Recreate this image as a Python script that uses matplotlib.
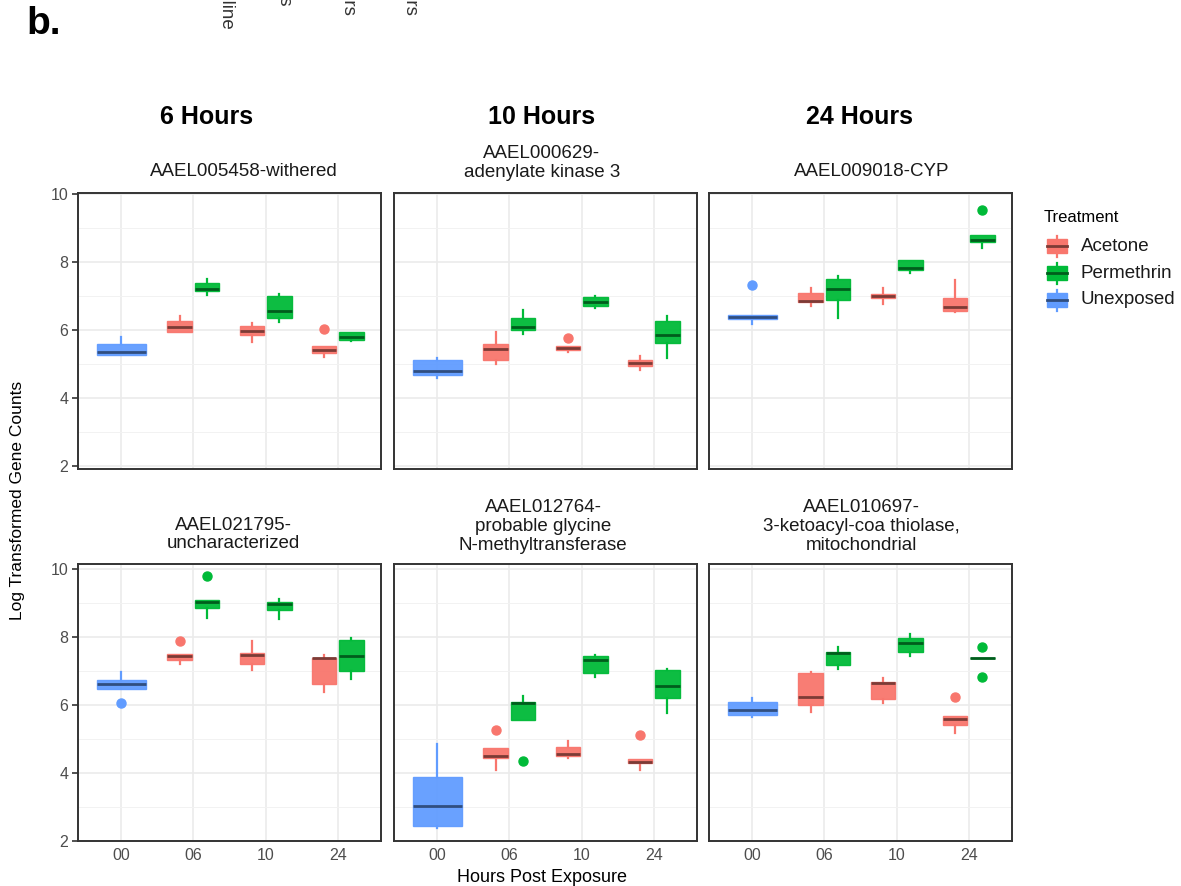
import matplotlib
matplotlib.use('Agg')
import matplotlib.pyplot as plt
from matplotlib.patches import Rectangle

plt.rcParams['font.family'] = ['Liberation Sans', 'DejaVu Sans']

hours = ['00', '06', '10', '24']
treatments = ['Acetone', 'Permethrin', 'Unexposed']
colors = {'Acetone': '#F8766D', 'Permethrin': '#00BA38', 'Unexposed': '#619CFF'}
med_colors = {'Acetone': '#7c3b36', 'Permethrin': '#005d1c', 'Unexposed': '#304e80'}
offsets = {'Acetone': -0.19, 'Permethrin': 0.19, 'Unexposed': 0.0}

# box stats: (hour, treatment, whislo, q1, median, q3, whishi)
withered = [
    ('00', 'Unexposed', 5.27, 5.27, 5.35, 5.59, 5.80),
    ('06', 'Acetone', 5.94, 5.94, 6.10, 6.26, 6.42),
    ('06', 'Permethrin', 7.03, 7.15, 7.22, 7.39, 7.50),
    ('10', 'Acetone', 5.66, 5.85, 5.98, 6.12, 6.21),
    ('10', 'Permethrin', 6.24, 6.36, 6.56, 7.00, 7.05),
    ('24', 'Acetone', 5.20, 5.33, 5.40, 5.54, 5.54),
    ('24', 'Permethrin', 5.69, 5.71, 5.78, 5.93, 5.95),
]
withered_out = [('24', 'Acetone', 6.03)]

kinase = [
    ('00', 'Unexposed', 4.58, 4.67, 4.79, 5.11, 5.17),
    ('06', 'Acetone', 5.00, 5.12, 5.43, 5.59, 5.95),
    ('06', 'Permethrin', 5.88, 5.99, 6.10, 6.34, 6.59),
    ('10', 'Acetone', 5.35, 5.40, 5.46, 5.53, 5.53),
    ('10', 'Permethrin', 6.64, 6.70, 6.82, 6.96, 7.00),
    ('24', 'Acetone', 4.82, 4.94, 5.02, 5.12, 5.24),
    ('24', 'Permethrin', 5.19, 5.61, 5.85, 6.27, 6.40),
]
kinase_out = [('10', 'Acetone', 5.77)]

cyp = [
    ('00', 'Unexposed', 6.17, 6.31, 6.38, 6.45, 6.45),
    ('06', 'Acetone', 6.72, 6.82, 6.86, 7.08, 7.23),
    ('06', 'Permethrin', 6.34, 6.87, 7.21, 7.51, 7.59),
    ('10', 'Acetone', 6.76, 6.94, 7.00, 7.05, 7.23),
    ('10', 'Permethrin', 7.69, 7.76, 7.81, 8.05, 8.05),
    ('24', 'Acetone', 6.53, 6.55, 6.67, 6.93, 7.47),
    ('24', 'Permethrin', 8.41, 8.59, 8.65, 8.79, 8.79),
]
cyp_out = [('00', 'Unexposed', 7.33), ('24', 'Permethrin', 9.52)]

uncharacterized = [
    ('00', 'Unexposed', 6.48, 6.48, 6.61, 6.73, 6.96),
    ('06', 'Acetone', 7.21, 7.34, 7.44, 7.49, 7.49),
    ('06', 'Permethrin', 8.55, 8.87, 9.02, 9.10, 9.10),
    ('10', 'Acetone', 7.03, 7.20, 7.48, 7.52, 7.88),
    ('10', 'Permethrin', 8.52, 8.79, 8.97, 9.02, 9.11),
    ('24', 'Acetone', 6.39, 6.62, 7.37, 7.39, 7.47),
    ('24', 'Permethrin', 6.76, 6.99, 7.44, 7.90, 7.96),
]
uncharacterized_out = [('00', 'Unexposed', 6.05), ('06', 'Acetone', 7.89), ('06', 'Permethrin', 9.79)]

glycine = [
    ('00', 'Unexposed', 2.37, 2.44, 3.03, 3.89, 4.84),
    ('06', 'Acetone', 4.09, 4.44, 4.50, 4.74, 4.74),
    ('06', 'Permethrin', 5.56, 5.56, 6.05, 6.10, 6.27),
    ('10', 'Acetone', 4.43, 4.51, 4.55, 4.76, 4.94),
    ('10', 'Permethrin', 6.82, 6.95, 7.33, 7.43, 7.46),
    ('24', 'Acetone', 4.09, 4.29, 4.32, 4.40, 4.40),
    ('24', 'Permethrin', 5.77, 6.21, 6.57, 7.04, 7.06),
]
glycine_out = [('06', 'Acetone', 5.26), ('06', 'Permethrin', 4.36), ('24', 'Acetone', 5.12)]

thiolase = [
    ('00', 'Unexposed', 5.66, 5.72, 5.85, 6.09, 6.20),
    ('06', 'Acetone', 5.79, 6.00, 6.23, 6.93, 6.98),
    ('06', 'Permethrin', 7.07, 7.19, 7.53, 7.57, 7.72),
    ('10', 'Acetone', 6.05, 6.18, 6.64, 6.67, 6.79),
    ('10', 'Permethrin', 7.44, 7.57, 7.82, 7.96, 8.10),
    ('24', 'Acetone', 5.17, 5.40, 5.60, 5.67, 5.67),
    ('24', 'Permethrin', 7.39, 7.39, 7.39, 7.39, 7.39),
]
thiolase_out = [('24', 'Acetone', 6.23), ('24', 'Permethrin', 7.72), ('24', 'Permethrin', 6.83)]

gene_titles = ['AAEL005458-withered', 'AAEL000629-\nadenylate kinase 3', 'AAEL009018-CYP',
               'AAEL021795-\nuncharacterized', 'AAEL012764-\nprobable glycine\nN-methyltransferase',
               'AAEL010697-\n3-ketoacyl-coa thiolase,\nmitochondrial']
time_titles = ['6 Hours', '10 Hours', '24 Hours']
# rotated labels from the panel above, mostly cropped off at the top edge
top_labels = ['Baseline', '6 Hours', '10 Hours', '24 Hours']

panels = [(withered, withered_out), (kinase, kinase_out), (cyp, cyp_out),
          (uncharacterized, uncharacterized_out), (glycine, glycine_out), (thiolase, thiolase_out)]

W, H = 1181, 886
fig = plt.figure(figsize=(W / 100, H / 100), dpi=100)

# panel boxes in pixels
col_x = [(78, 381), (394, 697), (709, 1012)]
row_y = [(193, 469), (564, 841)]
row_ylim = [(1.91, 10.03), (2.0, 10.15)]

for i, (stats, outs) in enumerate(panels):
    r, c = divmod(i, 3)
    x0, x1 = col_x[c]
    y0, y1 = row_y[r]
    ax = fig.add_axes([x0 / W, 1 - y1 / H, (x1 - x0) / W, (y1 - y0) / H])
    ax.set_xlim(-0.6, 3.6)
    ax.set_ylim(*row_ylim[r])
    ax.set_yticks([2, 4, 6, 8, 10])
    ax.set_yticks([3, 5, 7, 9], minor=True)
    ax.set_xticks(range(len(hours)))
    ax.set_xticklabels(hours)
    ax.grid(which='major', color='#ebebeb', lw=1.2, zorder=0)
    ax.grid(which='minor', axis='y', color='#f2f2f2', lw=0.7, zorder=0)
    ax.set_axisbelow(True)
    for s in ax.spines.values():
        s.set_color('#333333')
        s.set_linewidth(1.4)
    ax.tick_params(which='minor', length=0)
    ax.tick_params(axis='x', length=0, pad=5, labelsize=11.5, labelcolor='#4d4d4d',
                   labelbottom=(r == 1))
    if c == 0:
        ax.tick_params(axis='y', length=4, width=1.2, color='#333333', pad=3,
                       labelsize=11.5, labelcolor='#4d4d4d')
    else:
        ax.tick_params(axis='y', length=0, labelleft=False)

    for hr, tr, lo, q1, med, q3, hi in stats:
        fl = [v for h2, t2, v in outs if h2 == hr and t2 == tr]
        pos = hours.index(hr) + offsets[tr]
        w = 0.675 if tr == 'Unexposed' else 0.34
        col = colors[tr]
        ax.bxp([dict(med=med, q1=q1, q3=q3, whislo=lo, whishi=hi, fliers=fl)],
               positions=[pos], widths=[w], patch_artist=True, showcaps=False,
               manage_ticks=False,
               boxprops=dict(facecolor=col, edgecolor=col, lw=1, alpha=0.95),
               whiskerprops=dict(color=col, lw=1.6),
               medianprops=dict(color=med_colors[tr], lw=2),
               flierprops=dict(marker='o', markerfacecolor=col, markeredgecolor=col,
                               markersize=6.5))

# overlay in pixel coordinates for the free text and legend
ov = fig.add_axes([0, 0, 1, 1], zorder=5)
ov.set_xlim(0, W)
ov.set_ylim(H, 0)
ov.set_axis_off()
ov.patch.set_alpha(0)

ov.text(26, 24, 'b.', fontsize=28, fontweight='bold', ha='left', va='center')

frag_x = [225, 285, 349, 411]
frag_end = [31, 5, 15, 15]
for x, e, t in zip(frag_x, frag_end, top_labels):
    ov.text(x, e, t, rotation=270, fontsize=13.5, color='#333333', ha='center', va='bottom')

for x, t in zip([207, 542, 860], time_titles):
    ov.text(x, 117, t, fontsize=18, fontweight='bold', ha='center', va='center')

sub_pos = [(244, 171), (542, 163), (872, 171), (233, 534.5), (543, 526.5), (861, 526.5)]
for (x, y), t in zip(sub_pos, gene_titles):
    ov.text(x, y, t, fontsize=13.5, color='#1a1a1a', ha='center', va='center',
            multialignment='center', linespacing=1.15)

ov.text(18, 500, 'Log Transformed Gene Counts', rotation=90, fontsize=12.5,
        ha='center', va='center')
ov.text(542, 877, 'Hours Post Exposure', fontsize=13, ha='center', va='center')

# legend
ov.text(1044, 217, 'Treatment', fontsize=12, ha='left', va='center')
for k, tr in enumerate(treatments):
    yc = 246 + 27 * k
    col = colors[tr]
    ov.plot([1057, 1057], [yc - 10.5, yc + 10.5], color=col, lw=1.6)
    ov.add_patch(Rectangle((1047, yc - 7), 20, 14, facecolor=col, edgecolor=col, lw=1))
    ov.plot([1047, 1067], [yc, yc], color=med_colors[tr], lw=2)
    ov.text(1081, yc, tr, fontsize=13.5, color='#1a1a1a', ha='left', va='center')

fig.savefig('out.png', dpi=100)
